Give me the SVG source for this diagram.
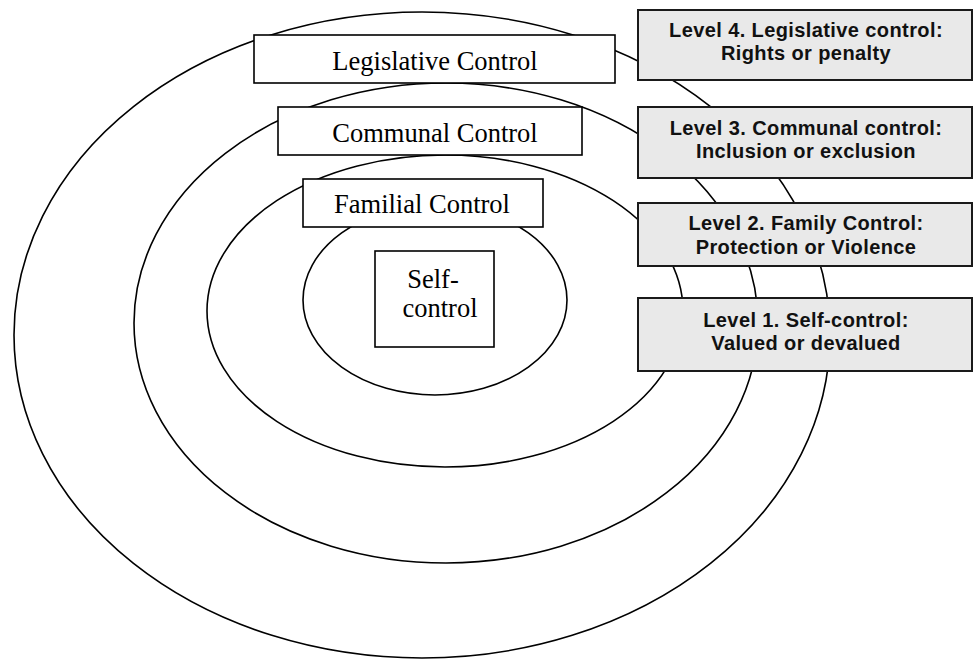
<svg xmlns="http://www.w3.org/2000/svg" width="973" height="659" viewBox="0 0 973 659">
<style>
.ring{fill:none;stroke:#000;stroke-width:1.6}
.lbox{fill:#fff;stroke:#000;stroke-width:1.6}
.rbox{fill:#e9e9e9;stroke:#1a1a1a;stroke-width:2}
.lt{font-family:"Liberation Serif","Times New Roman",serif;font-size:26.5px;fill:#000;text-anchor:middle}
.rt{font-family:"Liberation Sans",Arial,sans-serif;font-size:20px;font-weight:bold;fill:#111;text-anchor:middle;letter-spacing:0.4px}
</style>
<rect width="973" height="659" fill="#fff"/>
<g id="rings">
<ellipse id="ring-legislative" class="ring" cx="422" cy="335" rx="408" ry="323"/>
<ellipse id="ring-communal" class="ring" cx="446" cy="323" rx="312" ry="240"/>
<ellipse id="ring-familial" class="ring" cx="445" cy="311" rx="238" ry="156"/>
<ellipse id="ring-self" class="ring" cx="435" cy="300" rx="132" ry="95"/>
</g>
<g id="legislative-control">
<rect class="lbox" x="254" y="35" width="361" height="48"/>
<text class="lt" x="435" y="70">Legislative Control</text>
</g>
<g id="communal-control">
<rect class="lbox" x="278" y="107" width="304" height="48"/>
<text class="lt" x="435" y="142">Communal Control</text>
</g>
<g id="familial-control">
<rect class="lbox" x="303" y="179" width="240" height="48"/>
<text class="lt" x="422" y="213">Familial Control</text>
</g>
<g id="self-control">
<rect class="lbox" x="375" y="251" width="119" height="96"/>
<text class="lt" x="433" y="288">Self-</text>
<text class="lt" x="440" y="317">control</text>
</g>
<g id="level-4">
<rect class="rbox" x="638" y="10" width="334" height="70"/>
<text class="rt" x="806" y="37">Level 4. Legislative control:</text>
<text class="rt" x="806" y="60">Rights or penalty</text>
</g>
<g id="level-3">
<rect class="rbox" x="638" y="107" width="334" height="71"/>
<text class="rt" x="806" y="135">Level 3. Communal control:</text>
<text class="rt" x="806" y="158">Inclusion or exclusion</text>
</g>
<g id="level-2">
<rect class="rbox" x="638" y="203" width="334" height="63"/>
<text class="rt" x="806" y="230">Level 2. Family Control:</text>
<text class="rt" x="806" y="254">Protection or Violence</text>
</g>
<g id="level-1">
<rect class="rbox" x="638" y="298" width="334" height="73"/>
<text class="rt" x="806" y="327">Level 1. Self-control:</text>
<text class="rt" x="806" y="350">Valued or devalued</text>
</g>
</svg>
